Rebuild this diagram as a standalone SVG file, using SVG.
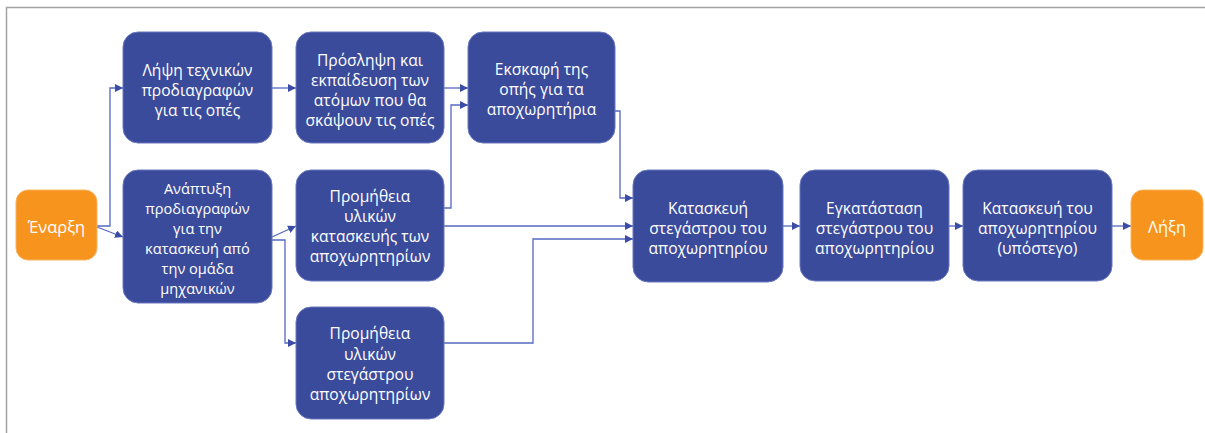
<svg xmlns="http://www.w3.org/2000/svg" width="1205" height="433" viewBox="0 0 1205 433">
  <style>
    .task rect { fill: #3b4b9b; stroke: #6a79c0; stroke-width: 1; }
    .term rect { fill: #f7941d; stroke: #f9b460; stroke-width: 1; }
    text { font-family: "Open Sans", "Noto Sans", "DejaVu Sans", sans-serif; font-size: 15.6px; fill: #ffffff; text-anchor: middle; dominant-baseline: central; }
    .term text { font-size: 16.5px; }
    #design-specs text { font-size: 14.6px; }
    #connectors path { fill: none; stroke: #5568c2; stroke-width: 1.3; marker-end: url(#arrow); }
  </style>
  <defs>
    <marker id="arrow" viewBox="0 0 10 10" refX="10" refY="5" markerWidth="8" markerHeight="8" markerUnits="userSpaceOnUse" orient="auto">
      <path d="M0,0 L10,5 L0,10 Z" fill="#3b4ca6"/>
    </marker>
  </defs>

  <rect x="0" y="0" width="1205" height="433" fill="#ffffff"/>
  <!-- frame -->
  <path d="M6.5,433 V7.5 H1205" fill="none" stroke="#a3a3a3" stroke-width="1.5"/>

  <g id="connectors">
    <path d="M97,226 H110 V88 H123"/>
    <path d="M97,227 L123,237"/>
    <path d="M272,88 H296"/>
    <path d="M272,237 L296,226"/>
    <path d="M272,240 H285 V343 H296"/>
    <path d="M444,88 H468"/>
    <path d="M444,208 H451 V105 H468"/>
    <path d="M615,111 H620 V198 H633"/>
    <path d="M444,226 H633"/>
    <path d="M444,343 H533 V239 H633"/>
    <path d="M783,226 H800"/>
    <path d="M949,226 H963"/>
    <path d="M1112,226 H1131"/>
  </g>

  <g id="start" class="term">
    <rect x="16" y="190" width="81" height="70" rx="12"/>
    <text x="56.5" y="226">Έναρξη</text>
  </g>

  <g id="tech-specs" class="task">
    <rect x="123" y="32" width="149" height="111" rx="15"/>
    <text x="197.5" y="70">Λήψη τεχνικών</text>
    <text x="197.5" y="90">προδιαγραφών</text>
    <text x="197.5" y="110">για τις οπές</text>
  </g>

  <g id="design-specs" class="task">
    <rect x="123" y="170" width="149" height="133" rx="15"/>
    <text x="197.5" y="187.5">Ανάπτυξη</text>
    <text x="197.5" y="207.5">προδιαγραφών</text>
    <text x="197.5" y="227.5">για την</text>
    <text x="197.5" y="247.5">κατασκευή από</text>
    <text x="197.5" y="267.5">την ομάδα</text>
    <text x="197.5" y="287.5">μηχανικών</text>
  </g>

  <g id="hiring" class="task">
    <rect x="296" y="32" width="148" height="111" rx="15"/>
    <text x="370" y="59.5">Πρόσληψη και</text>
    <text x="370" y="79.5">εκπαίδευση των</text>
    <text x="370" y="99.5">ατόμων που θα</text>
    <text x="370" y="119.5">σκάψουν τις οπές</text>
  </g>

  <g id="excavation" class="task">
    <rect x="468" y="32" width="147" height="111" rx="15"/>
    <text x="541.5" y="69">Εκσκαφή της</text>
    <text x="541.5" y="89">οπής για τα</text>
    <text x="541.5" y="109">αποχωρητήρια</text>
  </g>

  <g id="latrine-materials" class="task">
    <rect x="296" y="170" width="148" height="111" rx="15"/>
    <text x="370" y="195.5">Προμήθεια</text>
    <text x="370" y="216">υλικών</text>
    <text x="370" y="236">κατασκευής των</text>
    <text x="370" y="256">αποχωρητηρίων</text>
  </g>

  <g id="shelter-materials" class="task">
    <rect x="296" y="307" width="148" height="112" rx="15"/>
    <text x="370" y="333">Προμήθεια</text>
    <text x="370" y="353.5">υλικών</text>
    <text x="370" y="373.5">στεγάστρου</text>
    <text x="370" y="393.5">αποχωρητηρίων</text>
  </g>

  <g id="shelter-build" class="task">
    <rect x="633" y="170" width="150" height="112" rx="15"/>
    <text x="708" y="207.5">Κατασκευή</text>
    <text x="708" y="227.5">στεγάστρου του</text>
    <text x="708" y="247.5">αποχωρητηρίου</text>
  </g>

  <g id="shelter-install" class="task">
    <rect x="800" y="170" width="149" height="111" rx="15"/>
    <text x="874.5" y="207.5">Εγκατάσταση</text>
    <text x="874.5" y="227.5">στεγάστρου του</text>
    <text x="874.5" y="247.5">αποχωρητηρίου</text>
  </g>

  <g id="substructure" class="task">
    <rect x="963" y="170" width="149" height="111" rx="15"/>
    <text x="1037.5" y="207.5">Κατασκευή του</text>
    <text x="1037.5" y="227.5">αποχωρητηρίου</text>
    <text x="1037.5" y="247.5">(υπόστεγο)</text>
  </g>

  <g id="end" class="term">
    <rect x="1131" y="190" width="72" height="70" rx="12"/>
    <text x="1167" y="226">Λήξη</text>
  </g>
</svg>
